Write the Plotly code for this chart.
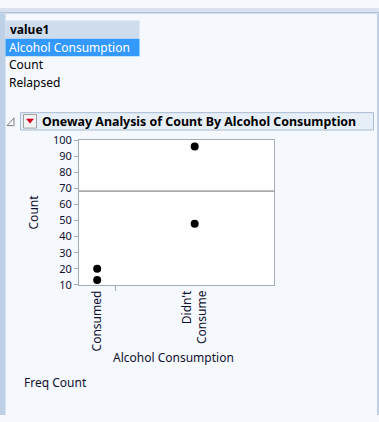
import plotly.graph_objects as go

# ---- data ----
categories = ["Consumed", "Didn't Consume"]
category_ticktext = ["Consumed", "Didn't<br>Consume"]
point_groups = ["Consumed", "Consumed", "Didn't Consume", "Didn't Consume"]
counts = [20, 13, 96, 48]
freq = counts[:]  # Freq column = Count
y_ticks = [10, 20, 30, 40, 50, 60, 70, 80, 90, 100]
col_list = ["Alcohol Consumption", "Count", "Relapsed"]

W, H = 379, 422
def px(x): return x / W
def py(y): return 1 - y / H

# category widths proportional to frequency
cat_tot = [sum(f for g, f in zip(point_groups, freq) if g == c) for c in categories]
bounds = [0]
for t in cat_tot:
    bounds.append(bounds[-1] + t)
centers = [(bounds[i] + bounds[i + 1]) / 2 for i in range(len(categories))]
xpos = [centers[categories.index(g)] for g in point_groups]
wmean = sum(c * f for c, f in zip(counts, freq)) / sum(freq)

FONT = "Noto Sans"
TXT = "#101030"

fig = go.Figure()
fig.add_trace(go.Scatter(x=[bounds[0], bounds[-1]], y=[wmean, wmean], mode="lines",
                         line=dict(color="#6E6E6E", width=1), hoverinfo="skip", showlegend=False))
fig.add_trace(go.Scatter(x=xpos, y=counts, mode="markers",
                         marker=dict(color="black", size=8), showlegend=False))
# boundary ticks
fig.add_trace(go.Scatter(x=bounds[1:-1], y=[None] * (len(bounds) - 2), xaxis="x2", showlegend=False))

shapes = []
# background decorations
shapes.append(dict(type="rect", xref="paper", yref="paper", x0=0, x1=1, y0=py(0), y1=py(4.5),
                   fillcolor="#D9E2EE", line=dict(width=0), layer="below"))
shapes.append(dict(type="line", xref="paper", yref="paper", x0=0, x1=1, y0=py(5), y1=py(5),
                   line=dict(color="#AFC3DA", width=1.5), layer="below"))
shapes.append(dict(type="rect", xref="paper", yref="paper", x0=0, x1=px(5.5), y0=py(6), y1=0,
                   fillcolor="#BDD0E6", line=dict(width=0), layer="below"))
shapes.append(dict(type="rect", xref="paper", yref="paper", x0=px(377), x1=1, y0=py(6), y1=0,
                   fillcolor="#BDD0E6", line=dict(width=0), layer="below"))
# column list box
shapes.append(dict(type="rect", xref="paper", yref="paper", x0=px(5.5), x1=px(139.5), y0=py(13), y1=py(32),
                   fillcolor="#CEDCEE", line=dict(width=0), layer="below"))
shapes.append(dict(type="rect", xref="paper", yref="paper", x0=px(5.5), x1=px(139.5), y0=py(32), y1=py(50),
                   fillcolor="#3399FF", line=dict(width=0), layer="below"))
# outline header
shapes.append(dict(type="rect", xref="paper", yref="paper", x0=px(20.5), x1=px(373.5), y0=py(108.5), y1=py(126.5),
                   fillcolor="#E6EEF7", line=dict(color="#A9BCD2", width=1), layer="below"))
# disclosure triangle
shapes.append(dict(type="path", xref="paper", yref="paper",
                   path=f"M {px(7)},{py(122)} L {px(14)},{py(122)} L {px(14)},{py(114)} Z",
                   fillcolor="rgba(0,0,0,0)", line=dict(color="#808080", width=1)))
# red arrow button
shapes.append(dict(type="rect", xref="paper", yref="paper", x0=px(23.5), x1=px(36.5), y0=py(110.5), y1=py(124.5),
                   fillcolor="#F4F4F4", line=dict(color="#A0A0A0", width=1)))
shapes.append(dict(type="path", xref="paper", yref="paper",
                   path=f"M {px(26.5)},{py(115)} L {px(33.5)},{py(115)} L {px(30)},{py(119.5)} Z",
                   fillcolor="#D0021B", line=dict(color="#D0021B", width=0.5)))

ann = []
ann.append(dict(text="<b>value1</b>", x=px(8), y=py(22.5), xref="paper", yref="paper",
                xanchor="left", yanchor="middle", showarrow=False, font=dict(family=FONT, size=12, color="black")))
for i, c in enumerate(col_list):
    ann.append(dict(text=c, x=px(7), y=py(41 + 18 * i), xref="paper", yref="paper",
                    xanchor="left", yanchor="middle", showarrow=False,
                    font=dict(family=FONT, size=12, color="white" if i == 0 else "black")))
ann.append(dict(text="<b>Oneway Analysis of Count By Alcohol Consumption</b>", x=px(39.5), y=py(117.5),
                xref="paper", yref="paper", xanchor="left", yanchor="middle", showarrow=False,
                font=dict(family=FONT, size=12.4, color="black")))
ann.append(dict(text="Count", x=px(33), y=py(212), xref="paper", yref="paper", textangle=-90,
                xanchor="center", yanchor="middle", showarrow=False, font=dict(family=FONT, size=12, color=TXT)))
ann.append(dict(text="Alcohol Consumption", x=px(173), y=py(362), xref="paper", yref="paper",
                xanchor="center", yanchor="middle", showarrow=False, font=dict(family=FONT, size=12, color=TXT)))
ann.append(dict(text="Freq Count", x=px(22), y=py(388), xref="paper", yref="paper",
                xanchor="left", yanchor="middle", showarrow=False, font=dict(family=FONT, size=12, color=TXT)))

axcol = "#A4ACB8"
fig.update_layout(
    width=W, height=H, margin=dict(l=0, r=0, t=0, b=0),
    paper_bgcolor="#F5F9FD", plot_bgcolor="white",
    shapes=shapes, annotations=ann, showlegend=False,
    xaxis=dict(domain=[px(79), px(274)], range=[bounds[0], bounds[-1]], tickvals=centers,
               ticktext=category_ticktext, tickangle=-90, ticks="", showgrid=False, zeroline=False,
               showline=True, linecolor=axcol, mirror=True, anchor="y",
               tickfont=dict(family=FONT, size=12, color=TXT)),
    xaxis2=dict(domain=[px(79), px(274)], range=[bounds[0], bounds[-1]], overlaying="x", anchor="y",
                side="bottom", tickvals=bounds[1:-1], ticks="outside", ticklen=5, tickcolor=axcol,
                showticklabels=False, showgrid=False, zeroline=False, showline=False),
    yaxis=dict(domain=[py(287), py(137)], range=[10, 100], tickvals=y_ticks, ticks="outside",
               ticklen=4, tickcolor=axcol, showgrid=False, zeroline=False, showline=True,
               linecolor=axcol, mirror=True, tickfont=dict(family=FONT, size=11, color=TXT)),
)
post = ("document.body.style.margin='0';document.body.style.overflow='hidden';"
        "document.documentElement.style.overflow='hidden';window.scrollTo(0,0);")
fig.write_html("out.html", config={"displayModeBar": False}, post_script=post)
